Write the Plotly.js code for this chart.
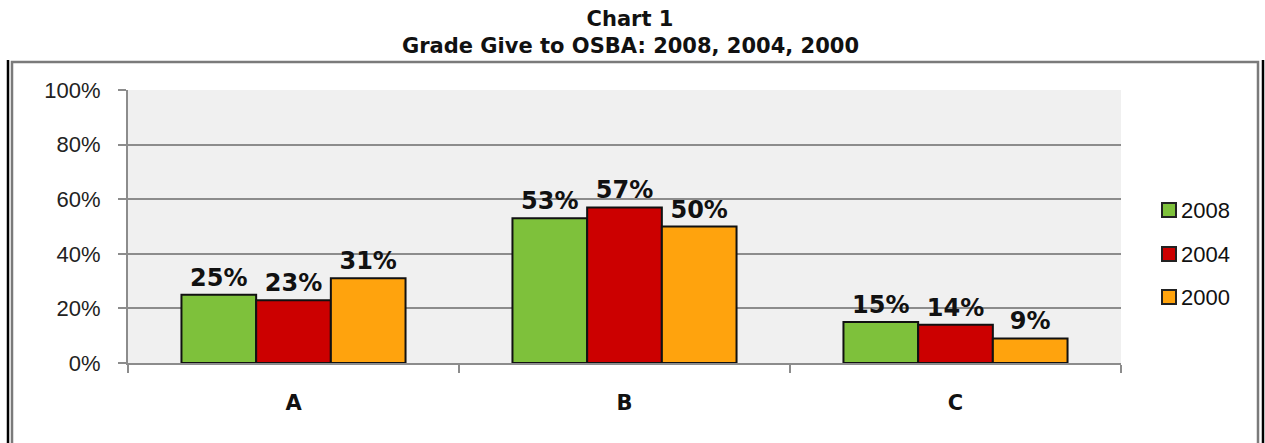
<!DOCTYPE html>
<html>
<head>
<meta charset="utf-8">
<script src="https://cdn.plot.ly/plotly-3.0.1.min.js"></script>
<style>html,body{margin:0;padding:0;background:#fff;}#chart{width:1265px;height:443px;}</style>
</head>
<body>
<div id="chart"></div>
<script>
const categories = ["A", "B", "C"];
const seriesNames = ["2008", "2004", "2000"];
const values2008 = [25, 53, 15];
const values2004 = [23, 57, 14];
const values2000 = [31, 50, 9];
const yTicks = [0, 20, 40, 60, 80, 100];
const yTickLabels = ["0%", "20%", "40%", "60%", "80%", "100%"];
const titleLine1 = "Chart 1";
const titleLine2 = "Grade Give to OSBA: 2008, 2004, 2000";
const colors = ["#7EC13B", "#CC0000", "#FFA30D"];

const seriesValues = [values2008, values2004, values2000];
const traces = seriesNames.map((name, i) => ({
  type: "bar",
  name: name,
  x: categories,
  y: seriesValues[i],
  marker: {color: colors[i], line: {color: "#111", width: 2}},
  text: seriesValues[i].map(v => v + "%"),
  textposition: "outside",
  cliponaxis: false,
  textfont: {family: "DejaVu Sans", size: 24, color: "#111", weight: "bold"},
  hoverinfo: "skip",
  showlegend: false
}));

const W = 1265, H = 443;
const L = 128, R = 144, T = 90, B = 80;
const pw = W - L - R, ph = H - T - B;
const px = x => (x - L) / pw;
const py = y => (H - B - y) / ph;

// legend (squares + labels) in paper coordinates
const legendY = [210, 254, 297];
const legendShapes = seriesNames.map((n, i) => ({
  type: "rect", xref: "paper", yref: "paper",
  x0: px(1162), x1: px(1176), y0: py(legendY[i] + 7), y1: py(legendY[i] - 7),
  fillcolor: colors[i], line: {color: "#222", width: 2}
}));
const legendAnn = seriesNames.map((n, i) => ({
  xref: "paper", yref: "paper", x: px(1179), y: py(legendY[i]),
  xanchor: "left", yanchor: "middle", showarrow: false, text: n,
  font: {family: "Liberation Sans", size: 22, color: "#111"}
}));
const subtitleAnn = {
  xref: "paper", yref: "paper", x: px(630), y: py(46),
  xanchor: "center", yanchor: "middle", showarrow: false,
  text: "<b>" + titleLine2 + "</b>",
  font: {family: "DejaVu Sans", size: 21, color: "#111"}
};

const layout = {
  width: W, height: H,
  margin: {l: L, r: R, t: T, b: B, pad: 0},
  paper_bgcolor: "#ffffff",
  plot_bgcolor: "#F0F0F0",
  bargap: 0.323,
  bargroupgap: 0,
  barmode: "group",
  showlegend: false,
  title: {
    text: "<b>" + titleLine1 + "</b>",
    font: {family: "DejaVu Sans", size: 21, color: "#111"},
    x: 630 / W, xanchor: "center", y: 1 - 19 / H, yanchor: "middle", yref: "container"
  },
  xaxis: {
    type: "category",
    ticks: "outside", tickson: "boundaries", ticklen: 8, tickcolor: "#8c8c8c", tickwidth: 2,
    showline: true, linecolor: "#8c8c8c", linewidth: 2,
    showgrid: false,
    tickfont: {family: "DejaVu Sans", size: 21, color: "#111", weight: "bold"},
    ticklabelstandoff: 20
  },
  yaxis: {
    range: [0, 100], tickmode: "array", tickvals: yTicks, ticktext: yTickLabels,
    ticks: "outside", ticklen: 8, tickcolor: "#8c8c8c", tickwidth: 2,
    showline: true, linecolor: "#8c8c8c", linewidth: 2,
    showgrid: true, gridcolor: "#8c8c8c", gridwidth: 2,
    zeroline: false,
    tickfont: {family: "Liberation Sans", size: 22, color: "#222"},
    ticklabelstandoff: 13
  },
  shapes: [
    {type: "rect", xref: "paper", yref: "paper", x0: px(12), x1: px(1258), y0: py(470), y1: py(62),
     line: {color: "#7a7a7a", width: 2.5}, fillcolor: "rgba(0,0,0,0)", layer: "above"},
    {type: "line", xref: "paper", yref: "paper", x0: px(8), x1: px(8), y0: py(470), y1: py(60),
     line: {color: "#000", width: 2.5}, layer: "above"},
    {type: "line", xref: "paper", yref: "paper", x0: px(1263), x1: px(1263), y0: py(470), y1: py(60),
     line: {color: "#000", width: 2.5}, layer: "above"}
  ].concat(legendShapes),
  annotations: legendAnn.concat([subtitleAnn])
};

Plotly.newPlot("chart", traces, layout, {displayModeBar: false, staticPlot: true});
</script>
</body>
</html>
